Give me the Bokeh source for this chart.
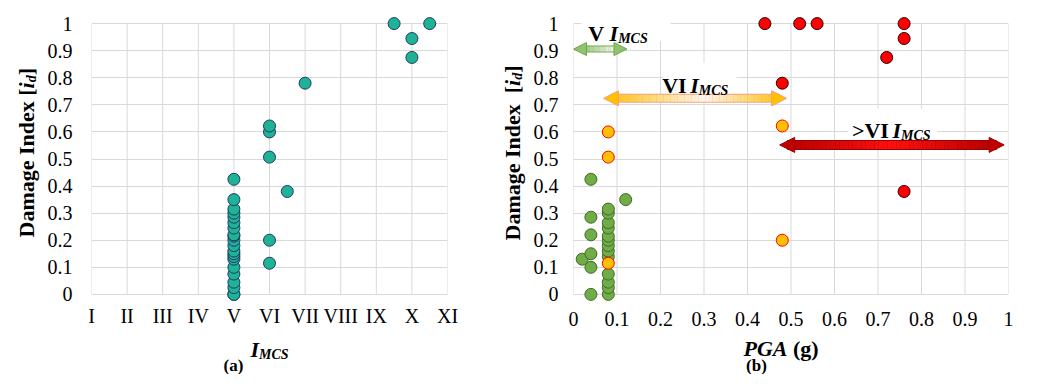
import numpy as np
from bokeh.plotting import figure
from bokeh.layouts import row, column
from bokeh.models import Range1d, FixedTicker, Label, Arrow, NormalHead, BoxAnnotation
from bokeh.embed import file_html
from bokeh.resources import INLINE

# ---------------- data ----------------
imcs_ticks = [1, 2, 3, 4, 5, 6, 7, 8, 9, 10, 11]
imcs_tick_labels = ["I", "II", "III", "IV", "V", "VI", "VII", "VIII", "IX", "X", "XI"]
id_ticks = [0.0, 0.1, 0.2, 0.3, 0.4, 0.5, 0.6, 0.7, 0.8, 0.9, 1.0]
id_tick_labels = ["0", "0.1", "0.2", "0.3", "0.4", "0.5", "0.6", "0.7", "0.8", "0.9", "1"]
pga_ticks = [0.0, 0.1, 0.2, 0.3, 0.4, 0.5, 0.6, 0.7, 0.8, 0.9, 1.0]
pga_tick_labels = ["0", "0.1", "0.2", "0.3", "0.4", "0.5", "0.6", "0.7", "0.8", "0.9", "1"]

# panel (a): intensity vs damage index
imcs_a = [5, 5, 5, 5, 5, 5, 5, 5, 5, 5, 5, 5, 5, 5, 5, 5, 5, 5, 5, 5, 5,
          6, 6, 6, 6, 6,
          6.5, 7, 9.5, 10, 10, 10.5]
id_a = [0.0, 0.0, 0.025, 0.045, 0.075, 0.10, 0.13, 0.14, 0.15, 0.16, 0.18, 0.20, 0.215, 0.22,
        0.245, 0.265, 0.285, 0.30, 0.315, 0.35, 0.425,
        0.115, 0.20, 0.507, 0.60, 0.622,
        0.38, 0.78, 1.0, 0.945, 0.875, 1.0]

# panel (b): PGA vs damage index, grouped by intensity
pga_v = [0.04, 0.04, 0.02, 0.04, 0.04, 0.04, 0.04, 0.12,
         0.08, 0.08, 0.08, 0.08, 0.08, 0.08, 0.08, 0.08, 0.08, 0.08, 0.08, 0.08, 0.08]
id_v = [0.0, 0.10, 0.13, 0.15, 0.22, 0.285, 0.425, 0.35,
        0.0, 0.025, 0.045, 0.075, 0.14, 0.16, 0.18, 0.20, 0.215, 0.245, 0.265, 0.30, 0.315]
pga_vi = [0.08, 0.08, 0.08, 0.48, 0.48]
id_vi = [0.115, 0.507, 0.60, 0.622, 0.20]
pga_gt = [0.44, 0.52, 0.56, 0.76, 0.76, 0.72, 0.48, 0.76]
id_gt = [1.0, 1.0, 1.0, 1.0, 0.945, 0.875, 0.78, 0.38]

# ---------------- styling helpers ----------------
FONT = "Liberation Serif"
GRID = "#D9D9D9"
ADV = {
    "bold": {"D": 722, "a": 500, "m": 833, "g": 500, "e": 444, " ": 250, "I": 389, "n": 556,
             "d": 556, "x": 500, "[": 333, "]": 333, "V": 722, ">": 570, "(": 333, ")": 333},
    "bold italic": {"i": 278, "d": 500, "I": 389, "M": 889, "C": 667, "S": 556, "P": 611,
                    "G": 722, "A": 667},
}

TOP_H = 332      # height of the row holding both panels
BORDER_T, BORDER_B = 15, 30
TOTAL_W, TOTAL_H = 1025, 374


def text_w(s, style, size):
    return sum(ADV[style][c] for c in s) * size / 1000.0


def rich(p, ax, ay, x0, y0, parts, angle=0.0):
    adv = 0.0
    for part in parts:
        if isinstance(part, (int, float)):
            adv += part
            continue
        text, style, size, shift = part
        if angle == 0:
            xo, yo = x0 + adv, y0 + shift
        else:
            xo, yo = x0 - shift, y0 + adv
        p.add_layout(Label(x=ax, y=ay, x_offset=xo, y_offset=yo, text=text, text_font=FONT,
                           text_font_style=style, text_font_size=f"{size}px", text_color="black",
                           angle=angle, text_align="left", text_baseline="alphabetic"))
        adv += text_w(text, style, size)


def side_panel(w):
    # text-only strip whose frame is aligned with the plot frames of the row;
    # data coordinates: x = pixels from strip left, y = pixels from row bottom
    f = figure(width=w, height=TOP_H, x_range=Range1d(0, w),
               y_range=Range1d(BORDER_B, TOP_H - BORDER_T),
               x_axis_type=None, y_axis_type=None, output_backend="svg", toolbar_location=None,
               min_border_left=0, min_border_right=0, min_border_top=BORDER_T,
               min_border_bottom=BORDER_B)
    f.outline_line_color = None
    return f


def style_axes(p, xticks, xlabels, x_standoff, y_standoff):
    p.xaxis.ticker = FixedTicker(ticks=xticks)
    p.xaxis.major_label_overrides = {t: l for t, l in zip(xticks, xlabels)}
    p.yaxis.ticker = FixedTicker(ticks=id_ticks)
    p.yaxis.major_label_overrides = {t: l for t, l in zip(id_ticks, id_tick_labels)}
    for ax, st in ((p.xaxis, x_standoff), (p.yaxis, y_standoff)):
        ax.axis_line_color = None
        ax.major_tick_line_color = None
        ax.minor_tick_line_color = None
        ax.major_label_text_font = FONT
        ax.major_label_text_font_size = "20px"
        ax.major_label_text_color = "black"
        ax.major_label_standoff = st
    p.xgrid.visible = False
    p.ygrid.ticker = FixedTicker(ticks=id_ticks)
    p.ygrid.grid_line_color = GRID
    p.ygrid.grid_line_width = 1
    p.outline_line_color = None
    n = len(xticks)
    p.segment(x0=xticks, y0=[id_ticks[0]] * n, x1=xticks, y1=[id_ticks[-1]] * n,
              line_color=GRID, line_width=1, level="image")


def hexmix(c1, c2, t):
    a = [int(c1[i:i + 2], 16) for i in (1, 3, 5)]
    b = [int(c2[i:i + 2], 16) for i in (1, 3, 5)]
    return "#%02x%02x%02x" % tuple(int(round(a[k] + (b[k] - a[k]) * t)) for k in range(3))


def grad_arrow(p, xa, xb, y, c_end, c_mid, mid, w, head, head_fill, outline, px_per_unit, n=48):
    h = head / px_per_unit
    s0, s1 = xa + 0.5 * h, xb - 0.5 * h
    xs = np.linspace(s0, s1, n + 1)
    t = (0.5 * (xs[:-1] + xs[1:]) - xa) / (xb - xa)
    wgt = np.where(t < mid, t / mid, (1 - t) / (1 - mid))
    cols = [hexmix(c_end, c_mid, float(v)) for v in wgt]
    p.segment(x0=[s0], y0=[y], x1=[s1], y1=[y], line_color=outline, line_width=w + 2)
    p.segment(x0=xs[:-1], y0=[y] * n, x1=xs[1:], y1=[y] * n, line_color=cols, line_width=w)
    p.add_layout(Arrow(x_start=xa, y_start=y, x_end=xb, y_end=y, line_alpha=0,
                       start=NormalHead(size=head, fill_color=head_fill, line_color=outline, line_width=1),
                       end=NormalHead(size=head, fill_color=head_fill, line_color=outline, line_width=1)))


# ---------------- panel (a) ----------------
yt1 = side_panel(44)
rich(yt1, 26, TOP_H - 237, 0, 0, [("Damage Index [", "bold", 22, 0), ("i", "bold italic", 22, 0),
                                  ("d", "bold italic", 14, -5), ("]", "bold", 22, 0)], angle=np.pi / 2)

p1 = figure(width=456, height=TOP_H, x_range=Range1d(1, 11), y_range=Range1d(-0.03, 1.03),
            output_backend="svg", toolbar_location=None,
            min_border_left=47, min_border_right=53, min_border_top=BORDER_T, min_border_bottom=BORDER_B)
style_axes(p1, imcs_ticks, imcs_tick_labels, -4, 13)
p1.scatter(imcs_a, id_a, size=12, fill_color="#1DB394", line_color="#1F3A68", line_width=1)

# ---------------- panel (b) ----------------
yt2 = side_panel(28)
rich(yt2, 12, TOP_H - 240, 0, 0, [("Damage Index", "bold", 22, 0), 11, ("[", "bold", 22, 0),
                                  ("i", "bold italic", 22, 0), ("d", "bold italic", 14, -5),
                                  ("]", "bold", 22, 0)], angle=np.pi / 2)

PX2 = 435.0
p2 = figure(width=TOTAL_W - 44 - 456 - 28, height=TOP_H, x_range=Range1d(0, 1),
            y_range=Range1d(-0.03, 1.03), output_backend="svg", toolbar_location=None,
            min_border_left=45, min_border_right=TOTAL_W - 44 - 456 - 28 - 45 - 435,
            min_border_top=BORDER_T, min_border_bottom=BORDER_B)
style_axes(p2, pga_ticks, pga_tick_labels, 3, 9)

# white boxes behind range labels
for l, r, b, t in ((0.018, 0.223, 0.935, 1.06), (0.207, 0.375, 0.752, 0.855), (0.631, 0.836, 0.575, 0.686)):
    p2.add_layout(BoxAnnotation(left=l, right=r, bottom=b, top=t, fill_color="white", fill_alpha=1,
                                line_color=None, level="underlay"))

grad_arrow(p2, 0.0, 0.123, 0.906, "#86BB62", "#FFFFFF", 0.72, 5, 13, "#92C26F", "#6FA84A", PX2)
grad_arrow(p2, 0.069, 0.49, 0.724, "#FFC000", "#FFF6F0", 0.55, 7, 15, "#FFC000", "#F4A080", PX2)
grad_arrow(p2, 0.474, 0.99, 0.552, "#B00000", "#FF1010", 0.5, 8, 15, "#C00000", "#9A0000", PX2)

p2.scatter(pga_v, id_v, size=12, fill_color="#70AD47", line_color="#3F6A28", line_width=1)
p2.scatter(pga_vi, id_vi, size=12, fill_color="#FFC000", line_color="#FF0000", line_width=1)
p2.scatter(pga_gt, id_gt, size=12, fill_color="#FF0000", line_color="#2A0000", line_width=1)

rich(p2, 0, 0, 14.7, 260.7, [("V", "bold", 22, 0), 5.5, ("I", "bold italic", 22, 0),
                             ("MCS", "bold italic", 14, -5)])
rich(p2, 0, 0, 88.7, 209, [("VI", "bold", 22, 0), 3.5, ("I", "bold italic", 22, 0),
                           ("MCS", "bold italic", 14, -5)])
rich(p2, 0, 0, 278.4, 164, [(">VI", "bold", 22, 0), 3.5, ("I", "bold italic", 22, 0),
                            ("MCS", "bold italic", 14, -5)])

# ---------------- bottom strip: axis titles and captions ----------------
BOT_H = TOTAL_H - TOP_H
bot = figure(width=TOTAL_W, height=BOT_H, x_range=Range1d(0, TOTAL_W), y_range=Range1d(0, BOT_H),
             x_axis_type=None, y_axis_type=None, output_backend="svg", toolbar_location=None,
             min_border=0)
bot.outline_line_color = None
rich(bot, 250, TOTAL_H - 349, 0, 0, [("I", "bold italic", 22, 0), ("MCS", "bold italic", 14, -5)])
rich(bot, 743, TOTAL_H - 348, 0, 0, [("PGA", "bold italic", 22, 0), 5.5, ("(g)", "bold", 22, 0)])
for cx, cap in ((233, "(a)"), (756, "(b)")):
    bot.add_layout(Label(x=cx, y=TOTAL_H - 365, text=cap, text_font=FONT, text_font_style="bold",
                         text_font_size="17px", text_align="center", text_baseline="alphabetic",
                         text_color="black"))

layout = column(row(yt1, p1, yt2, p2), bot)
open("out.html", "w").write(file_html(layout, INLINE))
